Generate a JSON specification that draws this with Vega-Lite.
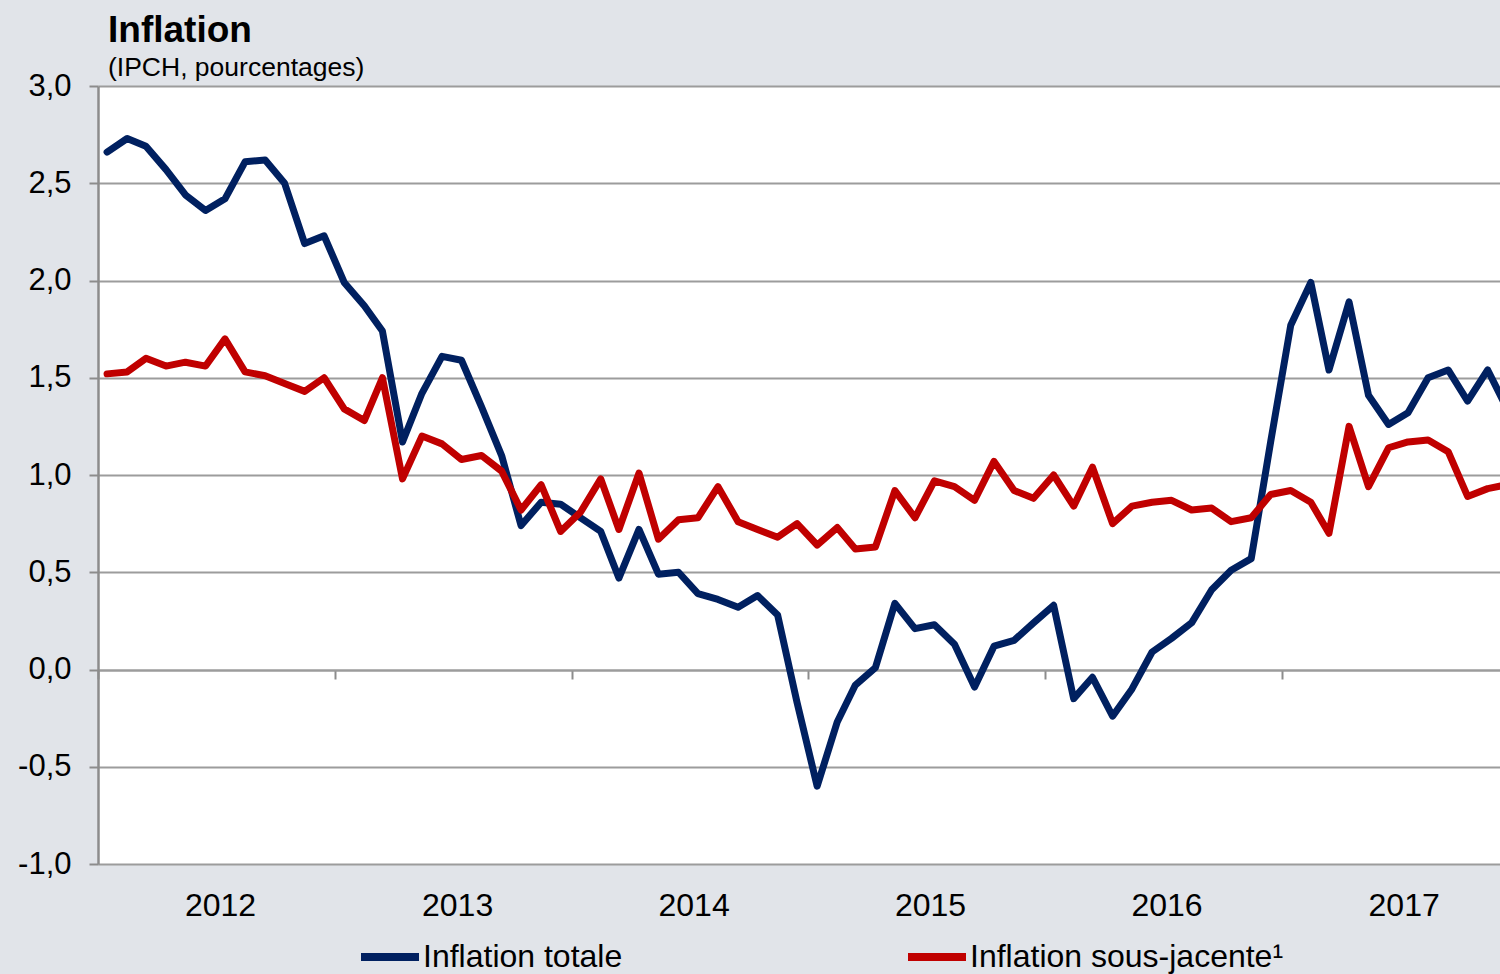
{
  "$schema": "https://vega.github.io/schema/vega-lite/v6.json",
  "width": 1402,
  "height": 778,
  "autosize": "none",
  "padding": {"left": 98, "top": 86, "right": 0, "bottom": 110},
  "background": "#e1e4e9",
  "title": {
    "text": "Inflation",
    "subtitle": "(IPCH, pourcentages)",
    "anchor": "start",
    "frame": "group",
    "dx": 10,
    "offset": -12,
    "font": "Liberation Sans",
    "fontSize": 37,
    "fontWeight": "bold",
    "color": "#000000",
    "subtitleFont": "Liberation Sans",
    "subtitleFontSize": 26.5,
    "subtitleColor": "#000000",
    "subtitlePadding": 5
  },
  "data": {
    "values": [
      {"mois": "2012-01-15", "serie": "Inflation totale", "valeur": 2.66},
      {"mois": "2012-02-15", "serie": "Inflation totale", "valeur": 2.73},
      {"mois": "2012-03-15", "serie": "Inflation totale", "valeur": 2.69},
      {"mois": "2012-04-15", "serie": "Inflation totale", "valeur": 2.57},
      {"mois": "2012-05-15", "serie": "Inflation totale", "valeur": 2.44},
      {"mois": "2012-06-15", "serie": "Inflation totale", "valeur": 2.36},
      {"mois": "2012-07-15", "serie": "Inflation totale", "valeur": 2.42},
      {"mois": "2012-08-15", "serie": "Inflation totale", "valeur": 2.61},
      {"mois": "2012-09-15", "serie": "Inflation totale", "valeur": 2.62},
      {"mois": "2012-10-15", "serie": "Inflation totale", "valeur": 2.50},
      {"mois": "2012-11-15", "serie": "Inflation totale", "valeur": 2.19},
      {"mois": "2012-12-15", "serie": "Inflation totale", "valeur": 2.23},
      {"mois": "2013-01-15", "serie": "Inflation totale", "valeur": 1.99},
      {"mois": "2013-02-15", "serie": "Inflation totale", "valeur": 1.87},
      {"mois": "2013-03-15", "serie": "Inflation totale", "valeur": 1.74},
      {"mois": "2013-04-15", "serie": "Inflation totale", "valeur": 1.17},
      {"mois": "2013-05-15", "serie": "Inflation totale", "valeur": 1.42},
      {"mois": "2013-06-15", "serie": "Inflation totale", "valeur": 1.61},
      {"mois": "2013-07-15", "serie": "Inflation totale", "valeur": 1.59},
      {"mois": "2013-08-15", "serie": "Inflation totale", "valeur": 1.35},
      {"mois": "2013-09-15", "serie": "Inflation totale", "valeur": 1.10},
      {"mois": "2013-10-15", "serie": "Inflation totale", "valeur": 0.74},
      {"mois": "2013-11-15", "serie": "Inflation totale", "valeur": 0.86},
      {"mois": "2013-12-15", "serie": "Inflation totale", "valeur": 0.85},
      {"mois": "2014-01-15", "serie": "Inflation totale", "valeur": 0.78},
      {"mois": "2014-02-15", "serie": "Inflation totale", "valeur": 0.71},
      {"mois": "2014-03-15", "serie": "Inflation totale", "valeur": 0.47},
      {"mois": "2014-04-15", "serie": "Inflation totale", "valeur": 0.72},
      {"mois": "2014-05-15", "serie": "Inflation totale", "valeur": 0.49},
      {"mois": "2014-06-15", "serie": "Inflation totale", "valeur": 0.50},
      {"mois": "2014-07-15", "serie": "Inflation totale", "valeur": 0.39},
      {"mois": "2014-08-15", "serie": "Inflation totale", "valeur": 0.36},
      {"mois": "2014-09-15", "serie": "Inflation totale", "valeur": 0.32},
      {"mois": "2014-10-15", "serie": "Inflation totale", "valeur": 0.38},
      {"mois": "2014-11-15", "serie": "Inflation totale", "valeur": 0.28},
      {"mois": "2014-12-15", "serie": "Inflation totale", "valeur": -0.17},
      {"mois": "2015-01-15", "serie": "Inflation totale", "valeur": -0.60},
      {"mois": "2015-02-15", "serie": "Inflation totale", "valeur": -0.27},
      {"mois": "2015-03-15", "serie": "Inflation totale", "valeur": -0.08},
      {"mois": "2015-04-15", "serie": "Inflation totale", "valeur": 0.01},
      {"mois": "2015-05-15", "serie": "Inflation totale", "valeur": 0.34},
      {"mois": "2015-06-15", "serie": "Inflation totale", "valeur": 0.21},
      {"mois": "2015-07-15", "serie": "Inflation totale", "valeur": 0.23},
      {"mois": "2015-08-15", "serie": "Inflation totale", "valeur": 0.13},
      {"mois": "2015-09-15", "serie": "Inflation totale", "valeur": -0.09},
      {"mois": "2015-10-15", "serie": "Inflation totale", "valeur": 0.12},
      {"mois": "2015-11-15", "serie": "Inflation totale", "valeur": 0.15},
      {"mois": "2015-12-15", "serie": "Inflation totale", "valeur": 0.24},
      {"mois": "2016-01-15", "serie": "Inflation totale", "valeur": 0.33},
      {"mois": "2016-02-15", "serie": "Inflation totale", "valeur": -0.15},
      {"mois": "2016-03-15", "serie": "Inflation totale", "valeur": -0.04},
      {"mois": "2016-04-15", "serie": "Inflation totale", "valeur": -0.24},
      {"mois": "2016-05-15", "serie": "Inflation totale", "valeur": -0.10},
      {"mois": "2016-06-15", "serie": "Inflation totale", "valeur": 0.09},
      {"mois": "2016-07-15", "serie": "Inflation totale", "valeur": 0.16},
      {"mois": "2016-08-15", "serie": "Inflation totale", "valeur": 0.24},
      {"mois": "2016-09-15", "serie": "Inflation totale", "valeur": 0.41},
      {"mois": "2016-10-15", "serie": "Inflation totale", "valeur": 0.51},
      {"mois": "2016-11-15", "serie": "Inflation totale", "valeur": 0.57},
      {"mois": "2016-12-15", "serie": "Inflation totale", "valeur": 1.17},
      {"mois": "2017-01-15", "serie": "Inflation totale", "valeur": 1.77},
      {"mois": "2017-02-15", "serie": "Inflation totale", "valeur": 1.99},
      {"mois": "2017-03-15", "serie": "Inflation totale", "valeur": 1.54},
      {"mois": "2017-04-15", "serie": "Inflation totale", "valeur": 1.89},
      {"mois": "2017-05-15", "serie": "Inflation totale", "valeur": 1.41},
      {"mois": "2017-06-15", "serie": "Inflation totale", "valeur": 1.26},
      {"mois": "2017-07-15", "serie": "Inflation totale", "valeur": 1.32},
      {"mois": "2017-08-15", "serie": "Inflation totale", "valeur": 1.50},
      {"mois": "2017-09-15", "serie": "Inflation totale", "valeur": 1.54},
      {"mois": "2017-10-15", "serie": "Inflation totale", "valeur": 1.38},
      {"mois": "2017-11-15", "serie": "Inflation totale", "valeur": 1.54},
      {"mois": "2017-12-15", "serie": "Inflation totale", "valeur": 1.34},
      {"mois": "2012-01-15", "serie": "Inflation sous-jacente¹", "valeur": 1.52},
      {"mois": "2012-02-15", "serie": "Inflation sous-jacente¹", "valeur": 1.53},
      {"mois": "2012-03-15", "serie": "Inflation sous-jacente¹", "valeur": 1.60},
      {"mois": "2012-04-15", "serie": "Inflation sous-jacente¹", "valeur": 1.56},
      {"mois": "2012-05-15", "serie": "Inflation sous-jacente¹", "valeur": 1.58},
      {"mois": "2012-06-15", "serie": "Inflation sous-jacente¹", "valeur": 1.56},
      {"mois": "2012-07-15", "serie": "Inflation sous-jacente¹", "valeur": 1.70},
      {"mois": "2012-08-15", "serie": "Inflation sous-jacente¹", "valeur": 1.53},
      {"mois": "2012-09-15", "serie": "Inflation sous-jacente¹", "valeur": 1.51},
      {"mois": "2012-10-15", "serie": "Inflation sous-jacente¹", "valeur": 1.47},
      {"mois": "2012-11-15", "serie": "Inflation sous-jacente¹", "valeur": 1.43},
      {"mois": "2012-12-15", "serie": "Inflation sous-jacente¹", "valeur": 1.50},
      {"mois": "2013-01-15", "serie": "Inflation sous-jacente¹", "valeur": 1.34},
      {"mois": "2013-02-15", "serie": "Inflation sous-jacente¹", "valeur": 1.28},
      {"mois": "2013-03-15", "serie": "Inflation sous-jacente¹", "valeur": 1.50},
      {"mois": "2013-04-15", "serie": "Inflation sous-jacente¹", "valeur": 0.98},
      {"mois": "2013-05-15", "serie": "Inflation sous-jacente¹", "valeur": 1.20},
      {"mois": "2013-06-15", "serie": "Inflation sous-jacente¹", "valeur": 1.16},
      {"mois": "2013-07-15", "serie": "Inflation sous-jacente¹", "valeur": 1.08},
      {"mois": "2013-08-15", "serie": "Inflation sous-jacente¹", "valeur": 1.10},
      {"mois": "2013-09-15", "serie": "Inflation sous-jacente¹", "valeur": 1.02},
      {"mois": "2013-10-15", "serie": "Inflation sous-jacente¹", "valeur": 0.82},
      {"mois": "2013-11-15", "serie": "Inflation sous-jacente¹", "valeur": 0.95},
      {"mois": "2013-12-15", "serie": "Inflation sous-jacente¹", "valeur": 0.71},
      {"mois": "2014-01-15", "serie": "Inflation sous-jacente¹", "valeur": 0.81},
      {"mois": "2014-02-15", "serie": "Inflation sous-jacente¹", "valeur": 0.98},
      {"mois": "2014-03-15", "serie": "Inflation sous-jacente¹", "valeur": 0.72},
      {"mois": "2014-04-15", "serie": "Inflation sous-jacente¹", "valeur": 1.01},
      {"mois": "2014-05-15", "serie": "Inflation sous-jacente¹", "valeur": 0.67},
      {"mois": "2014-06-15", "serie": "Inflation sous-jacente¹", "valeur": 0.77},
      {"mois": "2014-07-15", "serie": "Inflation sous-jacente¹", "valeur": 0.78},
      {"mois": "2014-08-15", "serie": "Inflation sous-jacente¹", "valeur": 0.94},
      {"mois": "2014-09-15", "serie": "Inflation sous-jacente¹", "valeur": 0.76},
      {"mois": "2014-10-15", "serie": "Inflation sous-jacente¹", "valeur": 0.72},
      {"mois": "2014-11-15", "serie": "Inflation sous-jacente¹", "valeur": 0.68},
      {"mois": "2014-12-15", "serie": "Inflation sous-jacente¹", "valeur": 0.75},
      {"mois": "2015-01-15", "serie": "Inflation sous-jacente¹", "valeur": 0.64},
      {"mois": "2015-02-15", "serie": "Inflation sous-jacente¹", "valeur": 0.73},
      {"mois": "2015-03-15", "serie": "Inflation sous-jacente¹", "valeur": 0.62},
      {"mois": "2015-04-15", "serie": "Inflation sous-jacente¹", "valeur": 0.63},
      {"mois": "2015-05-15", "serie": "Inflation sous-jacente¹", "valeur": 0.92},
      {"mois": "2015-06-15", "serie": "Inflation sous-jacente¹", "valeur": 0.78},
      {"mois": "2015-07-15", "serie": "Inflation sous-jacente¹", "valeur": 0.97},
      {"mois": "2015-08-15", "serie": "Inflation sous-jacente¹", "valeur": 0.94},
      {"mois": "2015-09-15", "serie": "Inflation sous-jacente¹", "valeur": 0.87},
      {"mois": "2015-10-15", "serie": "Inflation sous-jacente¹", "valeur": 1.07},
      {"mois": "2015-11-15", "serie": "Inflation sous-jacente¹", "valeur": 0.92},
      {"mois": "2015-12-15", "serie": "Inflation sous-jacente¹", "valeur": 0.88},
      {"mois": "2016-01-15", "serie": "Inflation sous-jacente¹", "valeur": 1.00},
      {"mois": "2016-02-15", "serie": "Inflation sous-jacente¹", "valeur": 0.84},
      {"mois": "2016-03-15", "serie": "Inflation sous-jacente¹", "valeur": 1.04},
      {"mois": "2016-04-15", "serie": "Inflation sous-jacente¹", "valeur": 0.75},
      {"mois": "2016-05-15", "serie": "Inflation sous-jacente¹", "valeur": 0.84},
      {"mois": "2016-06-15", "serie": "Inflation sous-jacente¹", "valeur": 0.86},
      {"mois": "2016-07-15", "serie": "Inflation sous-jacente¹", "valeur": 0.87},
      {"mois": "2016-08-15", "serie": "Inflation sous-jacente¹", "valeur": 0.82},
      {"mois": "2016-09-15", "serie": "Inflation sous-jacente¹", "valeur": 0.83},
      {"mois": "2016-10-15", "serie": "Inflation sous-jacente¹", "valeur": 0.76},
      {"mois": "2016-11-15", "serie": "Inflation sous-jacente¹", "valeur": 0.78},
      {"mois": "2016-12-15", "serie": "Inflation sous-jacente¹", "valeur": 0.90},
      {"mois": "2017-01-15", "serie": "Inflation sous-jacente¹", "valeur": 0.92},
      {"mois": "2017-02-15", "serie": "Inflation sous-jacente¹", "valeur": 0.86},
      {"mois": "2017-03-15", "serie": "Inflation sous-jacente¹", "valeur": 0.70},
      {"mois": "2017-04-15", "serie": "Inflation sous-jacente¹", "valeur": 1.25},
      {"mois": "2017-05-15", "serie": "Inflation sous-jacente¹", "valeur": 0.94},
      {"mois": "2017-06-15", "serie": "Inflation sous-jacente¹", "valeur": 1.14},
      {"mois": "2017-07-15", "serie": "Inflation sous-jacente¹", "valeur": 1.17},
      {"mois": "2017-08-15", "serie": "Inflation sous-jacente¹", "valeur": 1.18},
      {"mois": "2017-09-15", "serie": "Inflation sous-jacente¹", "valeur": 1.12},
      {"mois": "2017-10-15", "serie": "Inflation sous-jacente¹", "valeur": 0.89},
      {"mois": "2017-11-15", "serie": "Inflation sous-jacente¹", "valeur": 0.93},
      {"mois": "2017-12-15", "serie": "Inflation sous-jacente¹", "valeur": 0.95}
    ]
  },
  "encoding": {
    "y": {
      "field": "valeur",
      "type": "quantitative",
      "scale": {"domain": [-1, 3], "nice": false, "zero": false},
      "axis": {
        "title": null,
        "values": [-1, -0.5, 0, 0.5, 1, 1.5, 2, 2.5, 3],
        "labelExpr": "replace(replace(format(datum.value, '.1f'), '.', ','), '\u2212', '-')",
        "labelFont": "Liberation Sans",
        "labelFontSize": 31,
        "labelColor": "#000000",
        "labelPadding": 18,
        "domainColor": "#8c8c8c",
        "domainWidth": 2.5,
        "tickColor": "#8c8c8c",
        "tickWidth": 2,
        "tickSize": 9,
        "gridColor": "#9c9c9c",
        "gridWidth": 2
      }
    },
    "color": {
      "field": "serie",
      "type": "nominal",
      "scale": {
        "domain": ["Inflation totale", "Inflation sous-jacente¹"],
        "range": ["#002060", "#c00000"]
      },
      "legend": {
        "title": null,
        "orient": "none",
        "legendX": 259,
        "legendY": 838,
        "direction": "horizontal",
        "symbolType": "stroke",
        "symbolSize": 3364,
        "symbolStrokeWidth": 8,
        "labelFont": "Liberation Sans",
        "labelFontSize": 32,
        "labelColor": "#000000",
        "labelLimit": 600,
        "labelOffset": 0,
        "columnPadding": 269
      }
    }
  },
  "layer": [
    {
      "transform": [{"filter": "datum.serie === 'Inflation totale'"}],
      "mark": {"type": "line", "strokeWidth": 7, "strokeJoin": "round", "strokeCap": "round", "clip": true},
      "encoding": {
        "x": {
          "field": "mois",
          "type": "temporal",
          "scale": {"domain": [{"year": 2012, "month": 1, "date": 1, "utc": true}, {"year": 2017, "month": 12, "date": 4, "utc": true}]},
          "axis": {
            "title": null,
            "orient": "bottom",
            "offset": -194,
            "values": [
              {"year": 2012, "month": 1, "date": 1, "utc": true},
              {"year": 2013, "month": 1, "date": 1, "utc": true},
              {"year": 2014, "month": 1, "date": 1, "utc": true},
              {"year": 2015, "month": 1, "date": 1, "utc": true},
              {"year": 2016, "month": 1, "date": 1, "utc": true},
              {"year": 2017, "month": 1, "date": 1, "utc": true}
            ],
            "labels": false,
            "grid": false,
            "domainColor": "#9c9c9c",
            "domainWidth": 2,
            "tickColor": "#8c8c8c",
            "tickWidth": 2,
            "tickSize": 9
          }
        }
      }
    },
    {
      "transform": [{"filter": "datum.serie !== 'Inflation totale'"}],
      "mark": {"type": "line", "strokeWidth": 7, "strokeJoin": "round", "strokeCap": "round", "clip": true},
      "encoding": {
        "x": {
          "field": "mois",
          "type": "temporal",
          "axis": {
            "title": null,
            "orient": "bottom",
            "values": [
              {"year": 2012, "month": 1, "date": 1, "utc": true},
              {"year": 2013, "month": 1, "date": 1, "utc": true},
              {"year": 2014, "month": 1, "date": 1, "utc": true},
              {"year": 2015, "month": 1, "date": 1, "utc": true},
              {"year": 2016, "month": 1, "date": 1, "utc": true},
              {"year": 2017, "month": 1, "date": 1, "utc": true}
            ],
            "format": "%Y",
            "formatType": "utc",
            "labelOffset": 122,
            "labelFlush": false,
            "labelOverlap": false,
            "labelFont": "Liberation Sans",
            "labelFontSize": 32,
            "labelColor": "#000000",
            "labelPadding": 26,
            "ticks": false,
            "tickSize": 0,
            "domain": false,
            "grid": false
          }
        }
      }
    }
  ],
  "resolve": {"axis": {"x": "independent"}},
  "config": {
    "view": {"fill": "#ffffff", "stroke": null},
    "font": "Liberation Sans"
  }
}
